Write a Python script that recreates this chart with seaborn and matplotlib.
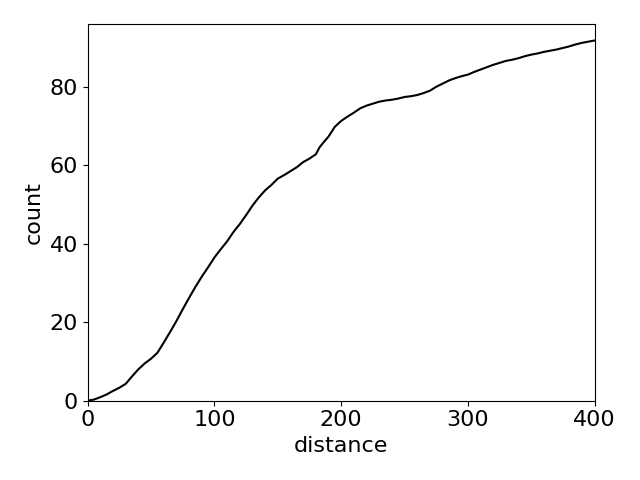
import matplotlib

matplotlib.use("Agg")

import matplotlib.pyplot as plt
import pandas as pd
import seaborn as sns

distance = [0, 5, 10, 15, 20, 25, 30, 35, 40, 45, 50, 55, 60, 65, 70, 75, 80, 85, 90, 95,
            100, 105, 110, 115, 120, 125, 130, 135, 140, 145, 150, 155, 160, 165, 170, 175,
            180, 183, 186, 190, 195, 200, 205, 210, 215, 220, 225, 230, 235, 240, 245, 250,
            255, 260, 265, 270, 275, 280, 285, 290, 295, 300, 305, 310, 315, 320, 325, 330,
            335, 340, 345, 350, 355, 360, 365, 370, 375, 380, 385, 390, 395, 400]
count = [0, 0.3, 0.9, 1.6, 2.5, 3.3, 4.3, 6.2, 8.0, 9.5, 10.7, 12.2, 14.8, 17.5, 20.3, 23.3,
         26.2, 29.0, 31.6, 34.0, 36.5, 38.6, 40.6, 43.0, 45.0, 47.3, 49.7, 51.8, 53.6, 55.0,
         56.6, 57.5, 58.5, 59.5, 60.8, 61.7, 62.8, 64.6, 65.8, 67.3, 69.8, 71.3, 72.4, 73.4,
         74.5, 75.2, 75.7, 76.2, 76.5, 76.7, 77.0, 77.4, 77.6, 77.9, 78.4, 79.0, 80.0, 80.8,
         81.6, 82.2, 82.7, 83.1, 83.8, 84.4, 85.0, 85.6, 86.1, 86.6, 86.9, 87.3, 87.8, 88.2,
         88.5, 88.9, 89.2, 89.5, 89.9, 90.3, 90.8, 91.2, 91.5, 91.8]

df = pd.DataFrame({"distance": distance, "count": count})

sns.set_style("white", {
    "text.color": "black",
    "axes.labelcolor": "black",
    "xtick.color": "black",
    "ytick.color": "black",
    "axes.edgecolor": "black",
})
plt.rcParams["font.size"] = 16

fig, ax = plt.subplots(figsize=(6.4, 4.8), dpi=100)
sns.lineplot(data=df, x="distance", y="count", color="black", linewidth=1.5, ax=ax)
ax.set_xlim(0, 400)
ax.set_ylim(0, 96)
ax.set_xticks([0, 100, 200, 300, 400])
ax.set_yticks([0, 20, 40, 60, 80])
ax.tick_params(labelsize=16, direction="out", length=3.5, width=0.8,
               left=True, bottom=True, colors="black")
ax.set_xlabel("distance", fontsize=16)
ax.set_ylabel("count", fontsize=16)
for spine in ax.spines.values():
    spine.set_linewidth(0.8)

fig.tight_layout()
fig.savefig("out.png", dpi=100)
plt.close(fig)
